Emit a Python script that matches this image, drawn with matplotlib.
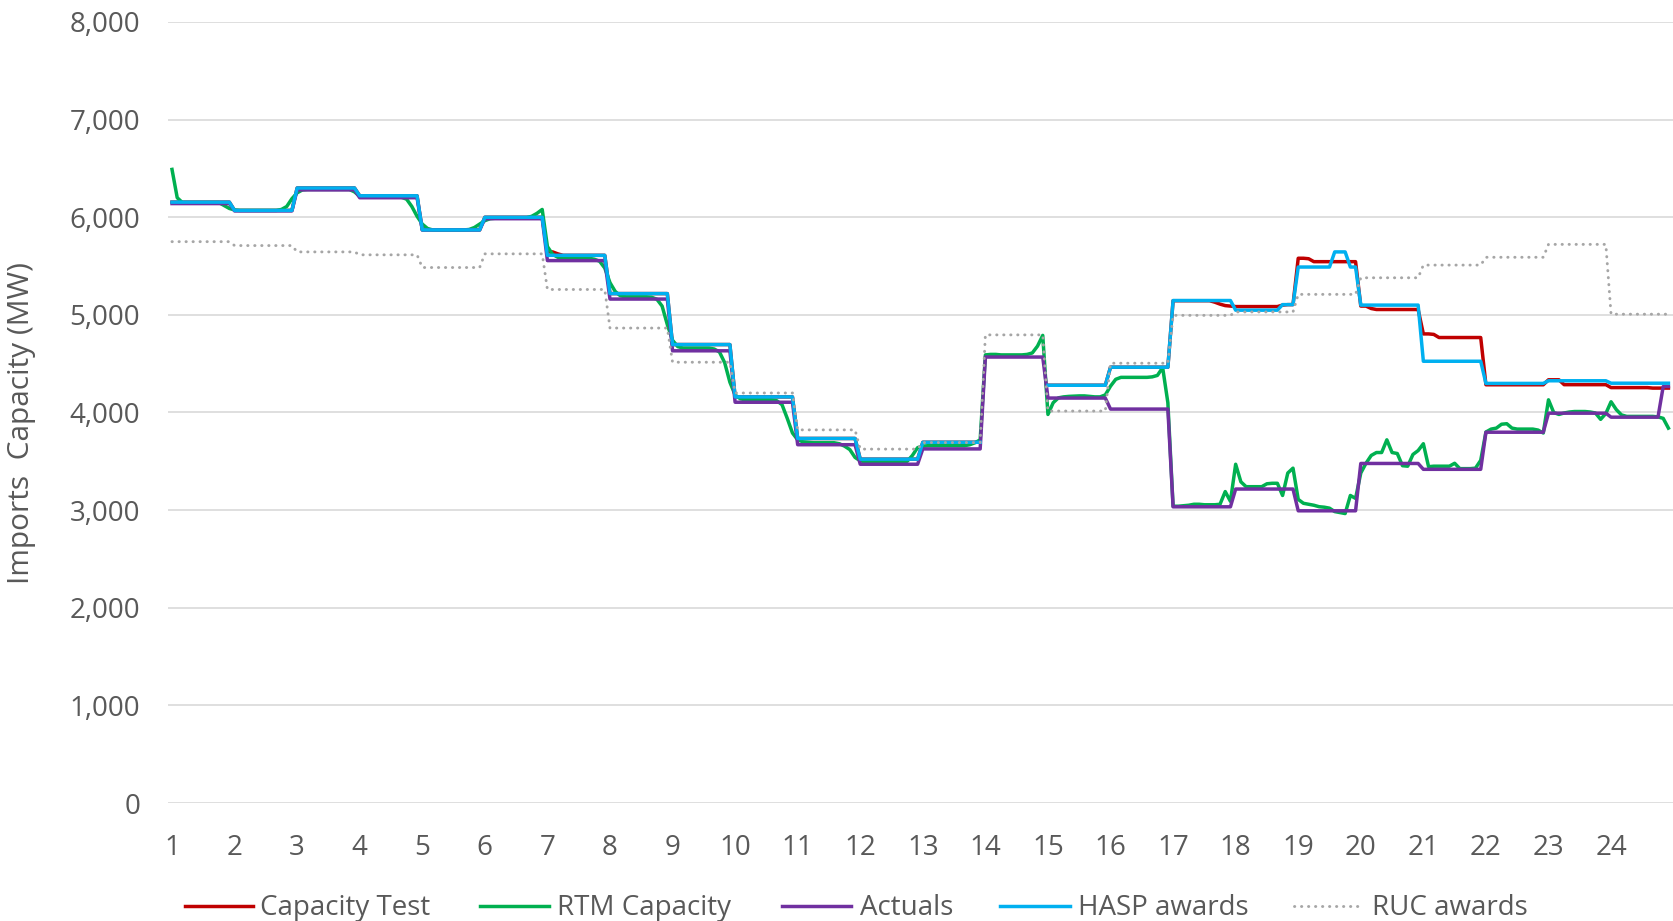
import numpy as np
import matplotlib
matplotlib.use("Agg")
import matplotlib.pyplot as plt
from matplotlib.lines import Line2D

# ---------------- data ----------------
hours = list(range(1, 25))
intervals_per_hour = 12  # 5-minute data

# hourly schedule values (MW)
capacity_test_hourly = [6155, 6070, 6300, 6220, 5870, 6000, 5610, 5218, 4696, 4160, 3734, 3522,
                        3695, np.nan, 4279, 4464, 5145, 5085, 5545, 5055, 4768, 4284, 4285, 4255]
hasp_hourly = [6155, 6070, 6300, 6220, 5870, 6000, 5610, 5218, 4696, 4160, 3734, 3522,
               3695, np.nan, 4279, 4464, 5147, 5048, 5490, 5100, 4525, 4298, 4325, 4300]
actuals_hourly = [6140, 6065, 6280, 6200, 5870, 5985, 5556, 5162, 4632, 4105, 3670, 3470,
                  3627, 4568, 4148, 4035, 3034, 3216, 2993, 3478, 3418, 3798, 3993, 3952]
ruc_hourly = [5750, 5710, 5645, 5615, 5485, 5625, 5260, 4865, 4515, 4200, 3822, 3625,
              3692, 4795, 4015, 4505, 4995, 5030, 5210, 5380, 5510, 5590, 5722, 5007]

# intra-hour readings that differ from the hourly value: (hour, interval) -> MW
capacity_test_intra = {(7, 0): 5645, (7, 1): 5645, (7, 2): 5625,
                       (17, 8): 5130, (17, 9): 5110, (17, 10): 5095, (17, 11): 5090,
                       (18, 9): 5100, (18, 10): 5105, (18, 11): 5105,
                       (19, 0): 5580, (19, 1): 5580, (19, 2): 5575,
                       (20, 0): 5090, (20, 1): 5090, (20, 2): 5065,
                       (21, 0): 4805, (21, 1): 4805, (21, 2): 4800,
                       (23, 0): 4335, (23, 1): 4335, (23, 2): 4335,
                       (24, 8): 4250, (24, 9): 4250, (24, 10): 4250, (24, 11): 4250}
hasp_intra = {(18, 9): 5105, (18, 10): 5105, (18, 11): 5105,
              (19, 7): 5645, (19, 8): 5645, (19, 9): 5645}
actuals_intra = {(24, 10): 4266, (24, 11): 4266}

# RTM capacity, 5-minute values, one row per hour
rtm_capacity = [
    [6490, 6200, 6150, 6150, 6150, 6150, 6150, 6150, 6150, 6150, 6120, 6090],
    [6075, 6070, 6070, 6070, 6070, 6070, 6070, 6070, 6070, 6080, 6110, 6190],
    [6250, 6280, 6285, 6285, 6285, 6285, 6285, 6285, 6285, 6285, 6285, 6260],
    [6215, 6205, 6205, 6205, 6205, 6205, 6205, 6205, 6205, 6185, 6110, 6010],
    [5930, 5885, 5870, 5870, 5870, 5870, 5870, 5870, 5870, 5875, 5895, 5930],
    [5965, 5985, 5990, 5990, 5990, 5990, 5990, 5990, 5995, 6010, 6040, 6080],
    [5700, 5620, 5590, 5585, 5585, 5585, 5585, 5585, 5580, 5570, 5550, 5480],
    [5330, 5240, 5195, 5185, 5185, 5185, 5185, 5185, 5180, 5160, 5090, 4900],
    [4740, 4675, 4660, 4660, 4660, 4660, 4660, 4660, 4650, 4620, 4510, 4310],
    [4180, 4140, 4130, 4130, 4130, 4130, 4130, 4130, 4120, 4080, 3940, 3790],
    [3720, 3700, 3695, 3690, 3690, 3690, 3690, 3690, 3680, 3655, 3620, 3540],
    [3505, 3495, 3490, 3490, 3490, 3490, 3490, 3490, 3490, 3500, 3560, 3640],
    [3655, 3660, 3660, 3660, 3660, 3660, 3660, 3660, 3660, 3670, 3690, 3720],
    [4590, 4595, 4595, 4590, 4590, 4590, 4590, 4590, 4595, 4610, 4680, 4790],
    [3980, 4100, 4150, 4160, 4165, 4168, 4170, 4170, 4165, 4160, 4160, 4180],
    [4270, 4340, 4360, 4360, 4360, 4360, 4360, 4360, 4365, 4380, 4460, 4100],
    [3040, 3040, 3045, 3050, 3060, 3060, 3055, 3055, 3055, 3060, 3190, 3090],
    [3470, 3290, 3240, 3240, 3240, 3240, 3270, 3275, 3275, 3150, 3380, 3430],
    [3110, 3070, 3060, 3050, 3035, 3030, 3020, 2985, 2975, 2965, 3150, 3120],
    [3380, 3480, 3560, 3590, 3590, 3720, 3590, 3580, 3455, 3450, 3570, 3610],
    [3680, 3445, 3450, 3450, 3450, 3450, 3480, 3425, 3425, 3425, 3430, 3510],
    [3800, 3830, 3840, 3880, 3885, 3840, 3830, 3830, 3830, 3830, 3820, 3790],
    [4130, 4000, 3980, 3995, 4005, 4010, 4010, 4010, 4005, 3995, 3930, 3990],
    [4110, 4030, 3975, 3960, 3960, 3960, 3960, 3960, 3960, 3955, 3940, 3840],
]

series_labels = ["Capacity Test", "RTM Capacity", "Actuals", "HASP awards", "RUC awards"]
series_colors = ["#C00000", "#00B050", "#7030A0", "#00B0F0", "#A6A6A6"]
y_ticks = [0, 1000, 2000, 3000, 4000, 5000, 6000, 7000, 8000]


def expand(hourly, intra=None):
    out = []
    for h, v in zip(hours, hourly):
        for k in range(intervals_per_hour):
            out.append(intra.get((h, k), v) if intra else v)
    return np.array(out, dtype=float)


cap_test = expand(capacity_test_hourly, capacity_test_intra)
hasp = expand(hasp_hourly, hasp_intra)
actuals = expand(actuals_hourly, actuals_intra)
ruc = expand(ruc_hourly)
rtm = np.array([v for row in rtm_capacity for v in row], dtype=float)
x = np.array([h + k / intervals_per_hour for h in hours for k in range(intervals_per_hour)])

# ---------------- figure ----------------
W, H = 1673, 921
fig = plt.figure(figsize=(W / 100, H / 100), dpi=100)
fig.patch.set_facecolor("white")
FONT = "Open Sans"
TXT = "#595959"

ax_left, ax_right, ax_top, ax_bot = 168, 1673, 22, 803
ax = fig.add_axes([ax_left / W, 1 - ax_bot / H, (ax_right - ax_left) / W, (ax_bot - ax_top) / H])
ax.set_xlim(0.936, 24.99)
ax.set_ylim(0, 8000)

lw = 2.5
dot_style = (0, (0.1, 2.3))
ax.plot(x, cap_test, color=series_colors[0], lw=lw, solid_joinstyle="round", zorder=3)
ax.plot(x, rtm, color=series_colors[1], lw=lw, solid_joinstyle="round", zorder=4)
ax.plot(x, actuals, color=series_colors[2], lw=lw, solid_joinstyle="round", zorder=5)
ax.plot(x, hasp, color=series_colors[3], lw=lw, solid_joinstyle="round", zorder=6)
ax.plot(x, ruc, color=series_colors[4], lw=2.1, linestyle=dot_style,
        dash_capstyle="round", zorder=7)

ax.set_yticks(y_ticks)
ax.set_yticklabels([f"{v:,}" for v in y_ticks])
ax.set_xticks(hours)
ax.set_xticklabels([str(h) for h in hours])
ax.grid(axis="y", color="#D9D9D9", lw=1.2, zorder=0)
ax.grid(axis="x", visible=False)
for s in ax.spines.values():
    s.set_visible(False)
ax.tick_params(axis="both", length=0, labelsize=20, labelcolor=TXT)
ax.tick_params(axis="y", pad=20)
ax.tick_params(axis="x", pad=22)
for lab in ax.get_xticklabels() + ax.get_yticklabels():
    lab.set_fontfamily(FONT)

fig.text(22 / W, 1 - 423 / H, "Imports  Capacity (MW)", rotation=90, ha="center", va="center",
         fontsize=21.5, color=TXT, fontfamily=FONT)

# ---------------- legend (bottom, manual) ----------------
leg_y = 906
leg_line_x = [(185, 253), (480, 549), (782, 851), (1000, 1070), (1294, 1364)]
leg_text_x = [260, 557, 860, 1078, 1372]
for i, lab in enumerate(series_labels):
    x0, x1 = leg_line_x[i]
    if i == 4:
        fig.add_artist(Line2D([x0 / W, x1 / W], [1 - leg_y / H] * 2, color=series_colors[i], lw=2.1,
                              linestyle=dot_style, dash_capstyle="round",
                              transform=fig.transFigure))
    else:
        fig.add_artist(Line2D([x0 / W, x1 / W], [1 - leg_y / H] * 2, color=series_colors[i], lw=lw,
                              transform=fig.transFigure))
    fig.text(leg_text_x[i] / W, 1 - 915 / H, lab, ha="left", va="baseline", fontsize=20,
             color=TXT, fontfamily=FONT)

fig.savefig("out.png", dpi=100, facecolor="white")
